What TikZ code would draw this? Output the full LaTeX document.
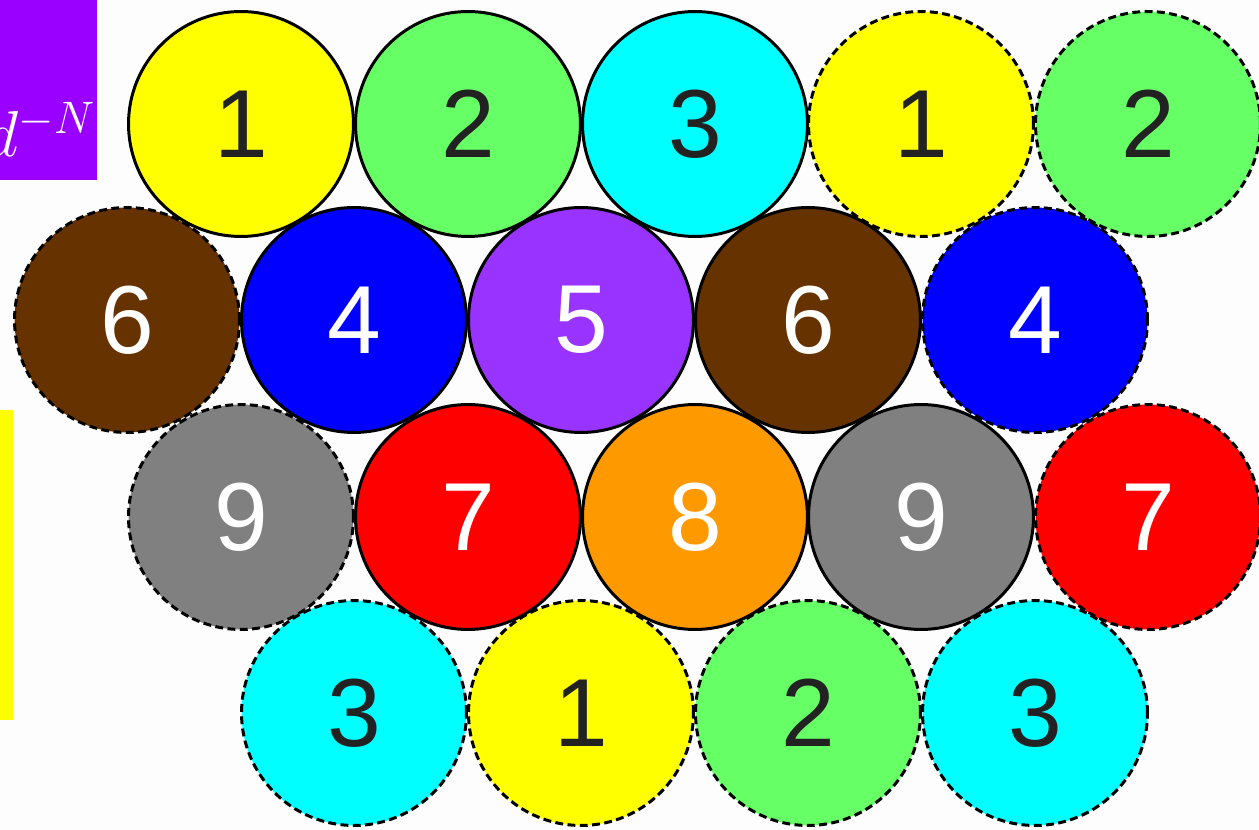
\RequirePackage{fix-cm}
\documentclass[tikz,border=0pt]{standalone}
\usepackage{fontspec}
\setsansfont{Liberation Sans}
\definecolor{bgwhite}{HTML}{FDFDFD}
\definecolor{ballyellow}{HTML}{FFFF00}
\definecolor{ballgreen}{HTML}{66FF66}
\definecolor{ballcyan}{HTML}{00FFFF}
\definecolor{ballbrown}{HTML}{663300}
\definecolor{ballblue}{HTML}{0000FF}
\definecolor{ballpurple}{HTML}{9933FF}
\definecolor{ballred}{HTML}{FF0000}
\definecolor{ballorange}{HTML}{FF9900}
\definecolor{ballgray}{HTML}{808080}
\definecolor{boxpurple}{HTML}{9900FF}
\definecolor{darktext}{HTML}{222222}
\tikzset{
  ball/.style={circle,minimum size=4.5cm,inner sep=0pt,line width=1.7pt,
    font=\sffamily\fontsize{55}{55}\selectfont},
  inner/.style={ball,draw=black},
  ghost/.style={ball,draw=black,dash pattern=on 4.5pt off 2.5pt},
}
\begin{document}
\begin{tikzpicture}[x=0.02cm,y=-0.02cm]
\useasboundingbox (0,0) rectangle (1259,830);
\fill[bgwhite] (0,0) rectangle (1259,830);
% side boxes, cut by the page edge
\begin{scope}
  \clip (0,0) rectangle (97,180);
  \fill[boxpurple] (0,0) rectangle (97,180);
  \node[anchor=base west,inner sep=0pt,text=white,font=\fontsize{37}{37}\selectfont] (dN) at (-15,157) {$d^{-N}$};
\end{scope}
\fill[ballyellow] (0,410) rectangle (13,720);
% periodic images (dashed) first, then the cell (solid)
\foreach \x/\y/\c/\t/\n/\s in {
    921/124/ballyellow/darktext/1/ghost, 1148/124/ballgreen/darktext/2/ghost,
    127/320/ballbrown/white/6/ghost, 1035/320/ballblue/white/4/ghost,
    241/517/ballgray/white/9/ghost, 1148/517/ballred/white/7/ghost,
    354/713/ballcyan/darktext/3/ghost, 581/713/ballyellow/darktext/1/ghost,
    808/713/ballgreen/darktext/2/ghost, 1035/713/ballcyan/darktext/3/ghost}
  \node[\s,fill=\c,text=\t] (img-\x-\y) at (\x,\y) {\n};
\foreach \x/\y/\c/\t/\n in {
    241/124/ballyellow/darktext/1, 468/124/ballgreen/darktext/2, 695/124/ballcyan/darktext/3,
    354/320/ballblue/white/4, 581/320/ballpurple/white/5, 808/320/ballbrown/white/6,
    468/517/ballred/white/7, 695/517/ballorange/white/8, 921/517/ballgray/white/9}
  \node[inner,fill=\c,text=\t] (cell-\n) at (\x,\y) {\n};
\end{tikzpicture}
\end{document}
